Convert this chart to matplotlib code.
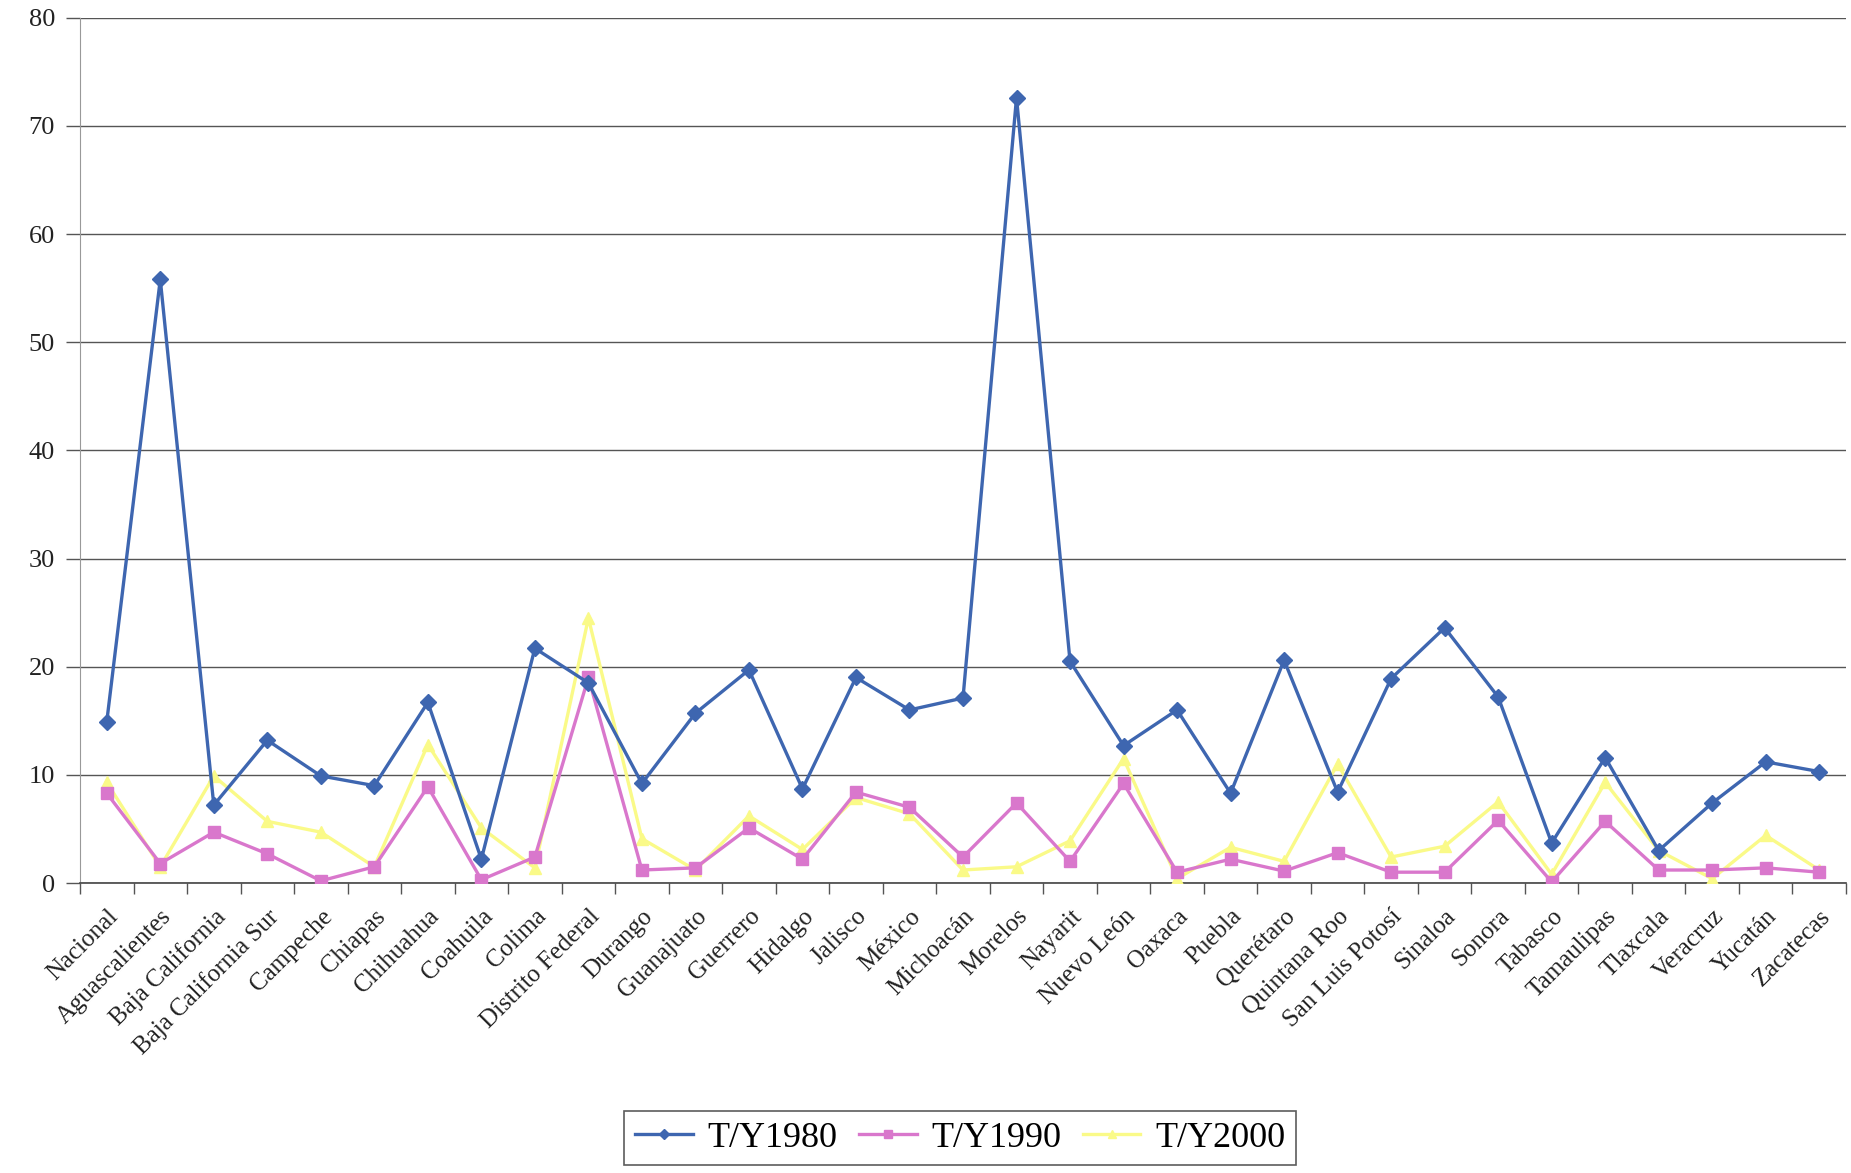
import matplotlib
matplotlib.use("Agg")
import matplotlib.pyplot as plt
import numpy as np

categories = ["Nacional", "Aguascalientes", "Baja California", "Baja California Sur",
              "Campeche", "Chiapas", "Chihuahua", "Coahuila", "Colima", "Distrito Federal",
              "Durango", "Guanajuato", "Guerrero", "Hidalgo", "Jalisco", "México",
              "Michoacán", "Morelos", "Nayarit", "Nuevo León", "Oaxaca", "Puebla",
              "Querétaro", "Quintana Roo", "San Luis Potosí", "Sinaloa", "Sonora",
              "Tabasco", "Tamaulipas", "Tlaxcala", "Veracruz", "Yucatán", "Zacatecas"]

ty1980 = [14.9, 55.8, 7.2, 13.2, 9.9, 9.0, 16.7, 2.2, 21.7, 18.5,
          9.2, 15.7, 19.7, 8.7, 19.0, 16.0, 17.1, 72.6, 20.5, 12.7,
          16.0, 8.3, 20.6, 8.4, 18.9, 23.6, 17.2, 3.7, 11.6, 3.0,
          7.4, 11.2, 10.3]
ty1990 = [8.3, 1.8, 4.7, 2.7, 0.2, 1.5, 8.9, 0.3, 2.4, 19.0,
          1.2, 1.4, 5.1, 2.2, 8.4, 7.0, 2.4, 7.4, 2.0, 9.2,
          1.0, 2.2, 1.1, 2.8, 1.0, 1.0, 5.8, 0.1, 5.7, 1.2,
          1.2, 1.4, 1.0]
ty2000 = [9.3, 1.5, 9.9, 5.7, 4.7, 1.5, 12.8, 5.1, 1.4, 24.5,
          4.1, 1.2, 6.2, 3.1, 7.9, 6.4, 1.2, 1.5, 3.9, 11.5,
          0.4, 3.3, 2.0, 11.0, 2.4, 3.4, 7.5, 0.8, 9.3, 3.0,
          0.4, 4.4, 1.2]
series_names = ["T/Y1980", "T/Y1990", "T/Y2000"]
yticks = [0, 10, 20, 30, 40, 50, 60, 70, 80]

plt.rcParams['font.family'] = ['Liberation Serif', 'DejaVu Serif']

fig = plt.figure(figsize=(18.51, 11.73), dpi=100)
ax = fig.add_axes([80/1851, 1 - 883/1173, (1846-80)/1851, (883-17.7)/1173])

x = np.arange(len(categories))
ax.plot(x, ty1980, color='#3E66B0', lw=2.4, marker='D', ms=8, label=series_names[0], zorder=5)
ax.plot(x, ty1990, color='#D977CC', lw=2.4, marker='s', ms=9, label=series_names[1], zorder=4)
ax.plot(x, ty2000, color='#FAFA88', lw=2.4, marker='^', ms=9, label=series_names[2], zorder=3)

ax.set_xlim(-0.5, len(categories) - 0.5)
ax.set_ylim(0, 80)
ax.set_yticks(yticks)
ax.set_yticklabels([str(v) for v in yticks], fontsize=19, color='#222222')
ax.yaxis.grid(True, color='#555555', lw=1.0)
ax.set_axisbelow(True)
ax.tick_params(axis='y', length=10, width=1.0, color='#555555', pad=8)

ax.set_xticks(x)
ax.set_xticklabels(categories, rotation=45, ha='right', rotation_mode='anchor',
                   fontsize=18, color='#222222')
ax.set_xticks(np.arange(-0.5, len(categories), 1.0), minor=True)
ax.tick_params(axis='x', which='major', length=0, pad=16)
ax.tick_params(axis='x', which='minor', length=8, width=1.0, color='#555555')

for s in ['top', 'right']:
    ax.spines[s].set_visible(False)
ax.spines['left'].set_color('#999999')
ax.spines['bottom'].set_color('#444444')
ax.spines['bottom'].set_linewidth(1.2)

leg = fig.legend(loc='center', bbox_to_anchor=(960/1851, 1 - 1138/1173), ncol=3,
                 fontsize=26, frameon=True, fancybox=False, edgecolor='#333333',
                 handlelength=1.6, handletextpad=0.4, columnspacing=0.6,
                 borderpad=0.3, markerscale=0.7)
leg.get_frame().set_linewidth(1.2)

fig.savefig("out.png", dpi=100)
